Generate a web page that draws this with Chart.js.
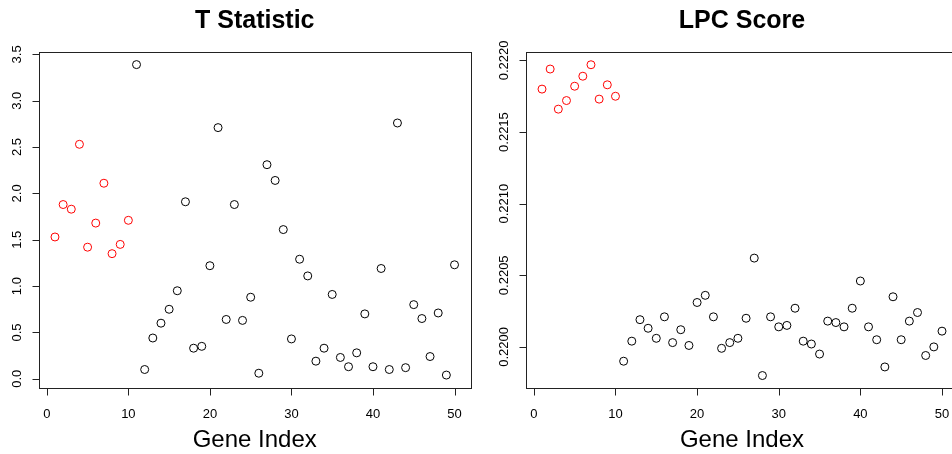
<!DOCTYPE html>
<html>
<head>
<meta charset="utf-8">
<script src="https://cdn.jsdelivr.net/npm/chart.js@4"></script>
<style>
  html, body { margin: 0; padding: 0; background: #fff; }
  body { width: 952px; height: 454px; overflow: hidden; position: relative; }
  canvas { position: absolute; top: 0; }
  #graphT { left: 0; }
  #graphLPC { left: 476px; }
</style>
</head>
<body>
<canvas id="graphT" width="476" height="454"></canvas>
<canvas id="graphLPC" width="490" height="454"></canvas>
<script>
// index gen 1..50, 10 pertama (merah) adalah gen yang berbeda
const geneIndex = Array.from({ length: 50 }, (_, i) => i + 1);
const nRed = 10;
const xTicks = [0, 10, 20, 30, 40, 50];

const tStatistic = [
  1.53, 1.88, 1.83, 2.53, 1.42, 1.68, 2.11, 1.35, 1.45, 1.71,
  3.39, 0.10, 0.44, 0.60, 0.75, 0.95, 1.91, 0.33, 0.35, 1.22,
  2.71, 0.64, 1.88, 0.63, 0.88, 0.06, 2.31, 2.14, 1.61, 0.43,
  1.29, 1.11, 0.19, 0.33, 0.91, 0.23, 0.13, 0.28, 0.70, 0.13,
  1.19, 0.10, 2.76, 0.12, 0.80, 0.65, 0.24, 0.71, 0.04, 1.23
];
const tTicks = [0.0, 0.5, 1.0, 1.5, 2.0, 2.5, 3.0, 3.5];

const lpcScore = [
  0.22180, 0.22194, 0.22166, 0.22172, 0.22182, 0.22189, 0.22197, 0.22173, 0.22183, 0.22175,
  0.21990, 0.22004, 0.22019, 0.22013, 0.22006, 0.22021, 0.22003, 0.22012, 0.22001, 0.22031,
  0.22036, 0.22021, 0.21999, 0.22003, 0.22006, 0.22020, 0.22062, 0.21980, 0.22021, 0.22014,
  0.22015, 0.22027, 0.22004, 0.22002, 0.21995, 0.22018, 0.22017, 0.22014, 0.22027, 0.22046,
  0.22014, 0.22005, 0.21986, 0.22035, 0.22005, 0.22018, 0.22024, 0.21994, 0.22000, 0.22011
];
const lpcTicks = [0.2200, 0.2205, 0.2210, 0.2215, 0.2220];

const FONT = '"Liberation Sans", Arial, Helvetica, sans-serif';

// Plugin untuk menggambar sumbu gaya R (kotak, tick, label diputar)
function rAxes(title, yTicks, yDigits) {
  return {
    id: 'rAxes',
    afterDraw(chart) {
      const ctx = chart.ctx;
      const a = chart.chartArea;
      const sx = chart.scales.x;
      const sy = chart.scales.y;
      ctx.save();
      ctx.strokeStyle = '#222';
      ctx.fillStyle = '#000';
      ctx.lineWidth = 1;

      // kotak plot
      const L = Math.round(a.left) + 0.5, T = Math.round(a.top) + 0.5;
      const R = Math.round(a.right) + 0.5, B = Math.round(a.bottom) + 0.5;
      ctx.strokeRect(L, T, R - L, B - T);

      // sumbu x
      ctx.beginPath();
      xTicks.forEach(v => {
        const px = Math.round(sx.getPixelForValue(v)) + 0.5;
        ctx.moveTo(px, B);
        ctx.lineTo(px, B + 7);
      });
      ctx.stroke();
      ctx.font = '13px ' + FONT;
      ctx.textAlign = 'center';
      ctx.textBaseline = 'alphabetic';
      xTicks.forEach(v => {
        ctx.fillText(String(v), sx.getPixelForValue(v), B + 29);
      });

      // sumbu y
      ctx.beginPath();
      yTicks.forEach(v => {
        const py = Math.round(sy.getPixelForValue(v)) + 0.5;
        ctx.moveTo(L, py);
        ctx.lineTo(L - 7, py);
      });
      ctx.stroke();
      yTicks.forEach(v => {
        ctx.save();
        ctx.translate(L - 19, sy.getPixelForValue(v));
        ctx.rotate(-Math.PI / 2);
        ctx.fillText(v.toFixed(yDigits), 0, 0);
        ctx.restore();
      });

      // judul dan label sumbu x
      const cx = (a.left + a.right) / 2;
      ctx.font = 'bold 25px ' + FONT;
      ctx.fillText(title, cx, 28);
      ctx.font = '24px ' + FONT;
      ctx.fillText('Gene Index', cx, 447);
      ctx.restore();
    }
  };
}

function makeChart(id, values, title, yTicks, yDigits, yMin, yMax, pad) {
  const red = geneIndex.slice(0, nRed).map((g, i) => ({ x: g, y: values[i] }));
  const black = geneIndex.slice(nRed).map((g, i) => ({ x: g, y: values[i + nRed] }));
  return new Chart(document.getElementById(id), {
    type: 'scatter',
    data: {
      datasets: [
        { data: red, borderColor: '#ff0000', backgroundColor: 'rgba(0,0,0,0)',
          pointRadius: 4, borderWidth: 1, pointHoverRadius: 4 },
        { data: black, borderColor: '#000000', backgroundColor: 'rgba(0,0,0,0)',
          pointRadius: 4, borderWidth: 1, pointHoverRadius: 4 }
      ]
    },
    options: {
      responsive: false,
      animation: false,
      layout: { padding: pad },
      scales: {
        x: { type: 'linear', min: -0.96, max: 51.96, display: false },
        y: { type: 'linear', min: yMin, max: yMax, display: false }
      },
      plugins: {
        legend: { display: false },
        tooltip: { enabled: false }
      }
    },
    plugins: [rAxes(title, yTicks, yDigits)]
  });
}

makeChart('graphT', tStatistic, 'T Statistic', tTicks, 1, -0.0995, 3.526,
  { left: 39, right: 5.5, top: 52, bottom: 66 });
makeChart('graphLPC', lpcScore, 'LPC Score', lpcTicks, 4, 0.219713, 0.222059,
  { left: 50, right: 8, top: 52, bottom: 66 });
</script>
</body>
</html>
